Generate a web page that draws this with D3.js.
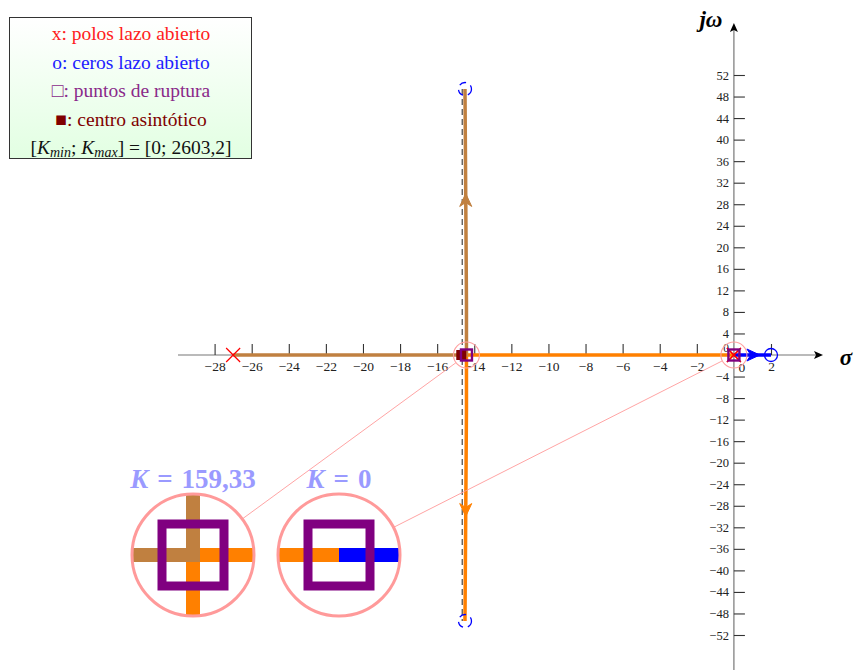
<!DOCTYPE html>
<html>
<head>
<meta charset="utf-8">
<script src="https://cdn.jsdelivr.net/npm/d3@7"></script>
<style>
  html, body { margin: 0; padding: 0; background: #fff; }
  svg { display: block; }
  text { font-family: "Liberation Serif", "DejaVu Serif", serif; }
</style>
</head>
<body>
<svg id="chart" width="857" height="670"></svg>
<script>
// Root locus: open-loop poles / zeros, branches and breakaway points
const poles = [[-27, 0], [0, 0], [0, 0]];
const zeros = [[2, 0], [-14.5, 49.4], [-14.5, -49.4]];
const zeroDashed = [false, true, true];

const branchColors = ["#c08040", "#ff8000", "#0000ff"];
const branchBrown  = [[-27, 0], [-14.42, 0], [-14.42, 10], [-14.46, 30], [-14.5, 49.4]];
const branchOrange = [[0, 0], [-14.42, 0], [-14.42, -10], [-14.46, -30], [-14.5, -49.4]];
const branchBlue   = [[0, 0], [2, 0]];
const branches = [branchOrange, branchBlue, branchBrown];
const branchColorOf = [branchColors[1], branchColors[2], branchColors[0]];

// direction arrows: [from, to] along each branch
const arrows = [
  { from: [-14.46, 27], to: [-14.46, 30], color: "#c08040" },
  { from: [-14.46, -27], to: [-14.46, -30], color: "#ff8000" },
  { from: [1.1, 0], to: [1.4, 0], color: "#0000ff" }
];

const breakaway = [[-14.42, 0], [0, 0]];
const breakawayK = ["159,33", "0"];
const asymCenter = -14.7;
const asymLine = -14.65;

const xTicks = d3.range(-28, 3, 2).filter(v => v !== 0);
const yTicks = d3.range(-52, 53, 4).filter(v => v !== 0);

const legendLines = [
  { text: "x: polos lazo abierto", color: "#ff2020" },
  { text: "o: ceros lazo abierto", color: "#2020ff" },
  { text: "\u25A1: puntos de ruptura", color: "#8a2a8a" },
  { text: "\u25A0: centro asintótico", color: "#800000" }
];
const kRange = ["0", "2603,2"];

const svg = d3.select("#chart");

const x = d3.scaleLinear().domain([-28, 2]).range([214.6, 771]);
const y = d3.scaleLinear().domain([-52, 52]).range([635, 75]);

const defs = svg.append("defs");
const grad = defs.append("linearGradient").attr("id", "lg").attr("x1", 0).attr("y1", 0).attr("x2", 0).attr("y2", 1);
grad.append("stop").attr("offset", "0%").attr("stop-color", "#ffffff");
grad.append("stop").attr("offset", "100%").attr("stop-color", "#e2ffe2");

// ---- axes ----
const axisG = svg.append("g");
const X0 = x(0), Y0 = y(0);

axisG.append("line").attr("x1", 178).attr("x2", 818).attr("y1", Y0).attr("y2", Y0)
  .attr("stroke", "#777").attr("stroke-width", 1.2);
axisG.append("line").attr("x1", X0).attr("x2", X0).attr("y1", 670).attr("y2", 28)
  .attr("stroke", "#777").attr("stroke-width", 1.2);

const arrowHead = "M0,0 L-9,-4 L-7,0 L-9,4 Z";
axisG.append("path").attr("d", arrowHead).attr("fill", "#000")
  .attr("transform", `translate(823,${Y0})`);
axisG.append("path").attr("d", arrowHead).attr("fill", "#000")
  .attr("transform", `translate(${X0},23) rotate(-90)`);

const xAxis = d3.axisBottom(x).tickValues(xTicks).tickSize(-11).tickPadding(6)
  .tickFormat(d => d3.format("")(d).replace("-", "\u2212"));
const gx = axisG.append("g").attr("transform", `translate(0,${Y0})`).call(xAxis);
gx.select(".domain").remove();
gx.selectAll(".tick line").attr("stroke", "#333").attr("stroke-width", 1.1);
gx.selectAll(".tick text").attr("font-size", 13.5).attr("fill", "#222")
  .attr("font-family", "Liberation Serif, serif");

const yAxis = d3.axisLeft(y).tickValues(yTicks).tickSize(-11).tickPadding(5)
  .tickFormat(d => d3.format("")(d).replace("-", "\u2212"));
const gy = axisG.append("g").attr("transform", `translate(${X0},0)`).call(yAxis);
gy.select(".domain").remove();
gy.selectAll(".tick line").attr("stroke", "#333").attr("stroke-width", 1.1);
gy.selectAll(".tick text").attr("font-size", 12.5).attr("fill", "#222")
  .attr("font-family", "Liberation Serif, serif");

axisG.append("text").attr("x", X0 - 5).attr("y", Y0 - 3).attr("text-anchor", "end")
  .attr("font-size", 11.5).attr("fill", "#222").text("0");
axisG.append("text").attr("x", X0 + 8).attr("y", Y0 + 17).attr("text-anchor", "middle")
  .attr("font-size", 13.5).attr("fill", "#222").text("0");

axisG.append("text").attr("x", 711).attr("y", 27).attr("text-anchor", "middle")
  .attr("font-size", 23).attr("font-weight", "bold").attr("font-style", "italic").text("j\u03C9");
axisG.append("text").attr("x", 846).attr("y", 365).attr("text-anchor", "middle")
  .attr("font-size", 23).attr("font-weight", "bold").attr("font-style", "italic").text("\u03C3");

// ---- asymptote line ----
svg.append("line")
  .attr("x1", x(asymLine)).attr("x2", x(asymLine))
  .attr("y1", y(zeros[1][1])).attr("y2", y(zeros[2][1]))
  .attr("stroke", "#222").attr("stroke-width", 1).attr("stroke-dasharray", "6,4");

// ---- branches ----
const line = d3.line().x(d => x(d[0])).y(d => y(d[1]));
const plotG = svg.append("g");
branches.forEach((b, i) => {
  plotG.append("path").attr("d", line(b)).attr("fill", "none")
    .attr("stroke", branchColorOf[i]).attr("stroke-width", 3.5)
    .attr("stroke-linejoin", "miter");
});

const stealth = "M0,0 L-13,-6 L-9,0 L-13,6 Z";
arrows.forEach(a => {
  const ang = Math.atan2(y(a.to[1]) - y(a.from[1]), x(a.to[0]) - x(a.from[0])) * 180 / Math.PI;
  plotG.append("path").attr("d", stealth).attr("fill", a.color)
    .attr("stroke", a.color).attr("stroke-width", 1).attr("stroke-linejoin", "round")
    .attr("transform", `translate(${x(a.to[0])},${y(a.to[1])}) rotate(${ang})`);
});

// zeros
zeros.forEach((z, i) => {
  plotG.append("circle").attr("cx", x(z[0])).attr("cy", y(z[1])).attr("r", 6.5)
    .attr("fill", "none").attr("stroke", "#0000ff").attr("stroke-width", 1.3)
    .attr("stroke-dasharray", zeroDashed[i] ? "7,5" : null);
});

// asymptote centre
plotG.append("rect").attr("x", x(asymCenter) - 5).attr("y", Y0 - 5)
  .attr("width", 10).attr("height", 10).attr("fill", "#800000");

// poles
poles.forEach(p => {
  const cx = x(p[0]), cy = y(p[1]), s = 7;
  plotG.append("path").attr("d", `M${cx - s},${cy - s}L${cx + s},${cy + s}M${cx - s},${cy + s}L${cx + s},${cy - s}`)
    .attr("stroke", "#ff0000").attr("stroke-width", 1.2).attr("fill", "none");
});

// breakaway squares
breakaway.forEach(b => {
  plotG.append("rect").attr("x", x(b[0]) - 5.5).attr("y", y(b[1]) - 5.5)
    .attr("width", 11).attr("height", 11).attr("fill", "none")
    .attr("stroke", "#800080").attr("stroke-width", 2.4);
});

// ---- magnifiers ----
const magR = 61;
const magCenters = [[193, 555], [339, 555]];
const zoomFactor = 6.4;
const magG = svg.append("g");

breakaway.forEach((b, i) => {
  const [mcx, mcy] = magCenters[i];
  const sx = x(b[0]), sy = y(b[1]);
  const smallR = 13;

  // connector
  const dx = mcx - sx, dy = mcy - sy, len = Math.hypot(dx, dy);
  const ux = dx / len, uy = dy / len;
  magG.append("line")
    .attr("x1", sx + ux * smallR).attr("y1", sy + uy * smallR)
    .attr("x2", mcx - ux * magR).attr("y2", mcy - uy * magR)
    .attr("stroke", "#ff9a9a").attr("stroke-width", 0.9);
  magG.append("circle").attr("cx", sx).attr("cy", sy).attr("r", smallR)
    .attr("fill", "none").attr("stroke", "#ffa0a0").attr("stroke-width", 1.1);

  const clipId = "mag" + i;
  defs.append("clipPath").attr("id", clipId)
    .append("circle").attr("cx", mcx).attr("cy", mcy).attr("r", magR);

  const kx = (x(1) - x(0)) * zoomFactor, ky = (y(0) - y(1)) * zoomFactor;
  const mx = d3.scaleLinear().domain([b[0] - 1, b[0] + 1]).range([mcx - kx, mcx + kx]);
  const my = d3.scaleLinear().domain([b[1] - 1, b[1] + 1]).range([mcy + ky, mcy - ky]);
  const mline = d3.line().x(d => mx(d[0])).y(d => my(d[1]));

  const inner = magG.append("g").attr("clip-path", `url(#${clipId})`);
  inner.append("circle").attr("cx", mcx).attr("cy", mcy).attr("r", magR).attr("fill", "#fff");
  branches.forEach((br, j) => {
    inner.append("path").attr("d", mline(br)).attr("fill", "none")
      .attr("stroke", branchColorOf[j]).attr("stroke-width", 14)
      .attr("stroke-linejoin", "miter");
  });
  inner.append("rect").attr("x", mx(b[0]) - 31).attr("y", my(b[1]) - 31)
    .attr("width", 62).attr("height", 62).attr("fill", "none")
    .attr("stroke", "#800080").attr("stroke-width", 9);

  magG.append("circle").attr("cx", mcx).attr("cy", mcy).attr("r", magR)
    .attr("fill", "none").attr("stroke", "#ff9a9a").attr("stroke-width", 3);

  const t = magG.append("text").attr("x", mcx).attr("y", mcy - magR - 6)
    .attr("text-anchor", "middle").attr("font-size", 27).attr("font-weight", "bold")
    .attr("fill", "#9a9aff");
  t.append("tspan").attr("font-style", "italic").text("K");
  t.append("tspan").attr("dx", 9).text("=");
  t.append("tspan").attr("dx", 9).text(breakawayK[i]);
});

// ---- legend ----
const lg = svg.append("g");
lg.append("rect").attr("x", 9.5).attr("y", 17.5).attr("width", 242).attr("height", 141)
  .attr("fill", "url(#lg)").attr("stroke", "#333").attr("stroke-width", 1);
legendLines.forEach((l, i) => {
  lg.append("text").attr("x", 131).attr("y", 40 + i * 28.6).attr("text-anchor", "middle")
    .attr("font-size", 19.5).attr("fill", l.color).text(l.text);
});
const kt = lg.append("text").attr("x", 131).attr("y", 154).attr("text-anchor", "middle")
  .attr("font-size", 19.5).attr("fill", "#111");
kt.append("tspan").text("[");
kt.append("tspan").attr("font-style", "italic").text("K");
kt.append("tspan").attr("font-style", "italic").attr("font-size", 14).attr("dy", 3).text("min");
kt.append("tspan").attr("dy", -3).text("; ");
kt.append("tspan").attr("font-style", "italic").text("K");
kt.append("tspan").attr("font-style", "italic").attr("font-size", 14).attr("dy", 3).text("max");
kt.append("tspan").attr("dy", -3).text(`] = [${kRange[0]}; ${kRange[1]}]`);
</script>
</body>
</html>
